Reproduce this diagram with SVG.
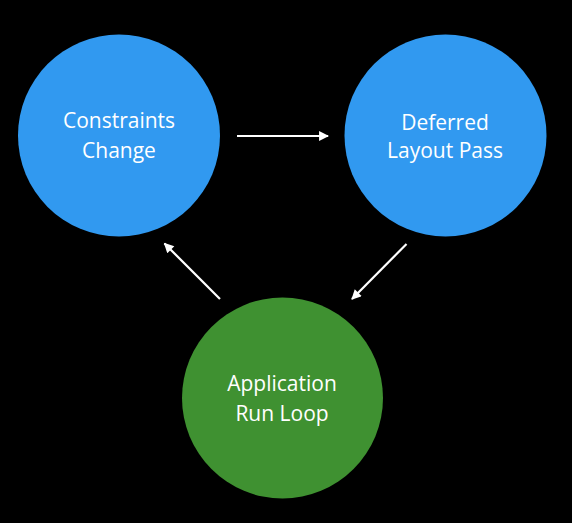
<svg xmlns="http://www.w3.org/2000/svg" width="572" height="523" viewBox="0 0 572 523">
<style>
.bg{fill:#000}
.blue{fill:#3199f0}
.green{fill:#3f9131}
.lbl{font-family:"Open Sans","Noto Sans","Liberation Sans",sans-serif;font-size:21px;fill:#fff;text-anchor:middle}
.conn{stroke:#fff;stroke-width:2.2;fill:none;marker-end:url(#ah)}
</style>
<defs>
<marker id="ah" viewBox="0 0 10 10" refX="9" refY="5" markerWidth="5" markerHeight="4.5" markerUnits="strokeWidth" orient="auto">
<path d="M0,0 L10,5 L0,10 z" fill="#fff"/>
</marker>
</defs>
<rect class="bg" x="0" y="0" width="572" height="523"/>
<g id="node-constraints">
<circle class="blue" cx="119" cy="135.5" r="101"/>
<text class="lbl" x="119" y="128">Constraints</text>
<text class="lbl" x="119" y="158">Change</text>
</g>
<g id="node-deferred">
<circle class="blue" cx="445.5" cy="135.5" r="101"/>
<text class="lbl" x="445" y="130">Deferred</text>
<text class="lbl" x="445" y="158">Layout Pass</text>
</g>
<g id="node-runloop">
<circle class="green" cx="282.5" cy="398" r="100.5"/>
<text class="lbl" x="282" y="391">Application</text>
<text class="lbl" x="282" y="421">Run Loop</text>
</g>
<g id="connectors">
<line class="conn" x1="237" y1="136" x2="328" y2="136"/>
<line class="conn" x1="406.5" y1="244" x2="352" y2="299"/>
<line class="conn" x1="220" y1="299" x2="164.5" y2="243.5"/>
</g>
</svg>
